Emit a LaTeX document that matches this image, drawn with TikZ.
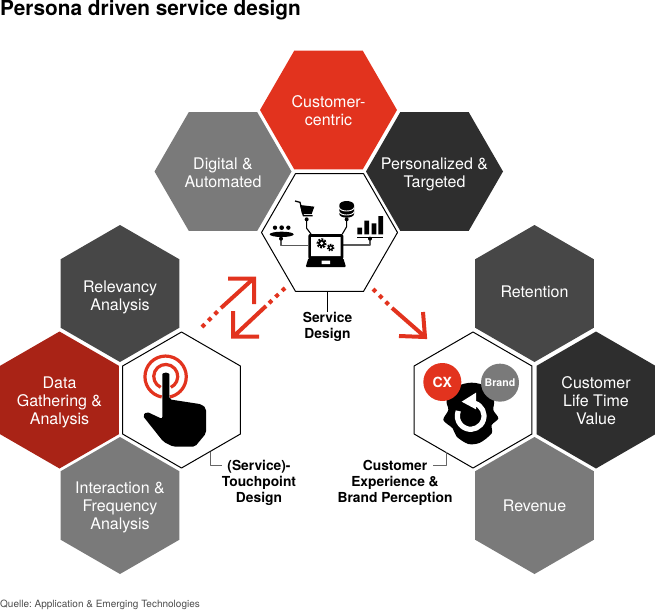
\documentclass[tikz,border=0pt]{standalone}
\usepackage{fontspec}
\setmainfont{TeX Gyre Heros}
\usetikzlibrary{shapes.geometric}
\definecolor{hexred}{HTML}{E2331E}
\definecolor{hexdarkred}{HTML}{A92316}
\definecolor{hexgray}{HTML}{7A7A7A}
\definecolor{hexmid}{HTML}{474747}
\definecolor{hexdark}{HTML}{2E2E2E}
\tikzset{
  hexflat/.style={regular polygon, regular polygon sides=6, minimum size=137pt, inner sep=-30pt, outer sep=0pt, fill=#1, text=white, align=center, font=\fontsize{16}{18}\selectfont, execute at end node={\rule[-6pt]{0pt}{0pt}}},
  hexpoint/.style={hexflat=#1, shape border rotate=30},
  hexdrop/.style={execute at begin node={\rule{0pt}{#1pt}}},
  hexwhite/.style={regular polygon, regular polygon sides=6, minimum size=136pt, inner sep=0pt, outer sep=0pt, fill=white, draw=black, line width=1pt},
  caption/.style={font=\fontsize{13.8}{16}\selectfont\bfseries, align=center, text=black, inner sep=0pt},
  leader/.style={draw=#1, line width=1pt},
  redline/.style={draw=hexred, line width=4pt, line cap=butt, line join=miter},
  reddots/.style={redline, dash pattern=on 4pt off 5pt},
  wire/.style={draw=#1, line width=1.1pt}
}
\begin{document}
\begin{tikzpicture}[x=1pt, y=-1pt, line join=round]
\useasboundingbox (0,0) rectangle (655,610);
\node[anchor=base west, inner sep=0pt, font=\fontsize{20.8}{24}\selectfont\bfseries] (title) at (0,16) {Persona driven service design};
\node[anchor=base west, inner sep=0pt, font=\fontsize{10}{12}\selectfont\frenchspacing, text=black!70] (source) at (0,607) {Quelle: Application \& Emerging Technologies};
% top group
\node[hexflat=hexred, hexdrop=36] (customer) at (328.5,110) {Customer-\\centric};
\node[hexflat=hexgray, hexdrop=38] (digital) at (223,171.5) {Digital \&\\Automated};
\node[hexflat=hexdark, hexdrop=38] (personal) at (434.5,171.5) {Personalized \&\\Targeted};
\node[hexwhite] (service) at (329.5,232.5) {};
% left group
\node[hexpoint=hexmid, hexdrop=40] (relevancy) at (120,293.5) {Relevancy\\Analysis};
\node[hexpoint=hexdarkred, hexdrop=54] (data) at (59.5,400) {Data\\Gathering \&\\Analysis};
\node[hexpoint=hexgray, hexdrop=54] (interaction) at (120,505.5) {Interaction \&\\Frequency\\Analysis};
\node[hexwhite, shape border rotate=30] (touch) at (181.5,400) {};
% right group
\node[hexpoint=hexmid, hexdrop=14.4] (retention) at (534.5,293.5) {Retention};
\node[hexpoint=hexdark, hexdrop=54] (lifetime) at (596,400) {Customer\\Life Time\\Value};
\node[hexpoint=hexgray, hexdrop=18] (revenue) at (534.5,505.5) {Revenue};
\node[hexwhite, shape border rotate=30] (experience) at (473,400) {};
% captions
\node[caption] (servicecap) at (327.5,326.5) {Service\\Design};
\node[caption] (touchcap) at (259,482.5) {(Service)-\\Touchpoint\\Design};
\node[caption] (expcap) at (395,482.5) {Customer\\Experience \&\\Brand Perception};
\draw[leader=black] (service.south -| servicecap) -- (servicecap.north);
\draw[leader=black!60] (210,452) |- (touchcap.west |- 0,465);
\draw[leader=black!60] (446,452) |- (433,465);
% arrows
\coordinate (a1) at (202,327); \coordinate (a2) at (221,308); \coordinate (a3) at (253,279);
\coordinate (b1) at (285,288); \coordinate (b2) at (266,306); \coordinate (b3) at (234,336);
\coordinate (c1) at (373,289); \coordinate (c2) at (392,308); \coordinate (c3) at (424,336);
\draw[reddots] (a1) -- (a2);
\draw[redline] (a2) -- (a3) (228,278.5) -- (254,278.5) -- (254,304);
\draw[reddots] (b1) -- (b2);
\draw[redline] (b2) -- (b3) (259,336.5) -- (233,336.5) -- (233,311);
\draw[reddots] (c1) -- (c2);
\draw[redline] (c2) -- (c3) (399,336) -- (425,337) -- (423,312);
% service icon
\begin{scope}[shift={(250,160)}, scale=1/3]
\draw[wire=black!65] (93,235) -- (93,257) -- (175,257) (280,255) -- (360,255) -- (360,235);
\draw[wire=black] (170,177) -- (170,205) -- (183,222) (290,177) -- (290,200) -- (277,222);
\fill (93,236) circle (6) (360,236) circle (6) (170,178) circle (6) (290,178) circle (6);
\fill[rounded corners=2pt] (175,222) rectangle (280,298);
\fill[rounded corners=1pt] (175,295) -- (280,295) -- (288,321) -- (167,321) -- cycle;
\fill[white] (183,231) rectangle (272,288) (215,302) rectangle (240,312);
\draw[line width=3pt, dash pattern=on 1.5pt off 1.3pt] (215,250) circle (11);
\fill (215,250) circle (10.5);
\fill[white] (215,250) circle (5);
\draw[line width=2.5pt, dash pattern=on 1.2pt off 1.1pt] (242,263) circle (8);
\fill (242,263) circle (8);
\fill[white] (242,263) circle (3.5);
% cart
\draw[line width=1.3pt, line join=miter] (135,123) -- (150,127) -- (160,167) -- (188,167);
\fill (150,135) -- (193,140) -- (185,162) -- (156,162) -- cycle;
% database
\fill (268,135) arc (180:360:22 and 12) -- (312,162) arc (0:180:22 and 11) -- cycle;
\draw[white, line width=0.9pt] (268,143) arc (180:0:22 and 10) (268,155) arc (180:0:22 and 10);
% bars
\fill (322,203) rectangle (336,223) (343,182) rectangle (357,223) (365,190) rectangle (379,223) (385,168) rectangle (399,223);
\draw[line width=1.3pt] (322,232) -- (399,232);
% people
\fill (75,203) circle (6.5) (95,203) circle (7) (115,203) circle (6.5);
\fill (95,223) ellipse (36 and 8);
\end{scope}
% touch icon
\begin{scope}[shift={(120,270)}, scale=1/3]
\draw[hexred, line width=3.2pt, line cap=butt] (125,381) arc (101:438:62);
\draw[hexred, line width=3.2pt, line cap=butt] (122,352) arc (115:425:36);
\fill[rounded corners=2pt] (127,318) arc (180:360:10.5) -- (148,388) -- (245,403) -- (258,415) -- (258,490) -- (225,530) -- (160,530) -- (130,515) -- (68,437) -- (80,425) -- (127,447) -- cycle;
\end{scope}
% experience icon
\begin{scope}[shift={(350,290)}, scale=1/3]
\fill plot[smooth cycle] coordinates {(365,278) (410,290) (432,330) (430,360) (445,385) (425,405) (425,430) (390,458) (355,462) (320,440) (308,415) (280,390) (295,360) (290,330) (320,290)};
\draw[white, line width=5.2pt, line cap=butt] (375,340) arc (-71:202:40);
\fill[white] (335,335) -- (378,308) -- (378,358) -- cycle;
\node[circle, fill=hexred, minimum size=38pt, inner sep=0pt, text=white, font=\fontsize{14}{16}\selectfont\bfseries] (cx) at (277,276) {CX};
\node[circle, fill=hexgray, minimum size=38pt, inner sep=0pt, text=white, font=\fontsize{10.6}{12}\selectfont\bfseries] (brand) at (450,278) {Brand};
\end{scope}
\end{tikzpicture}
\end{document}
